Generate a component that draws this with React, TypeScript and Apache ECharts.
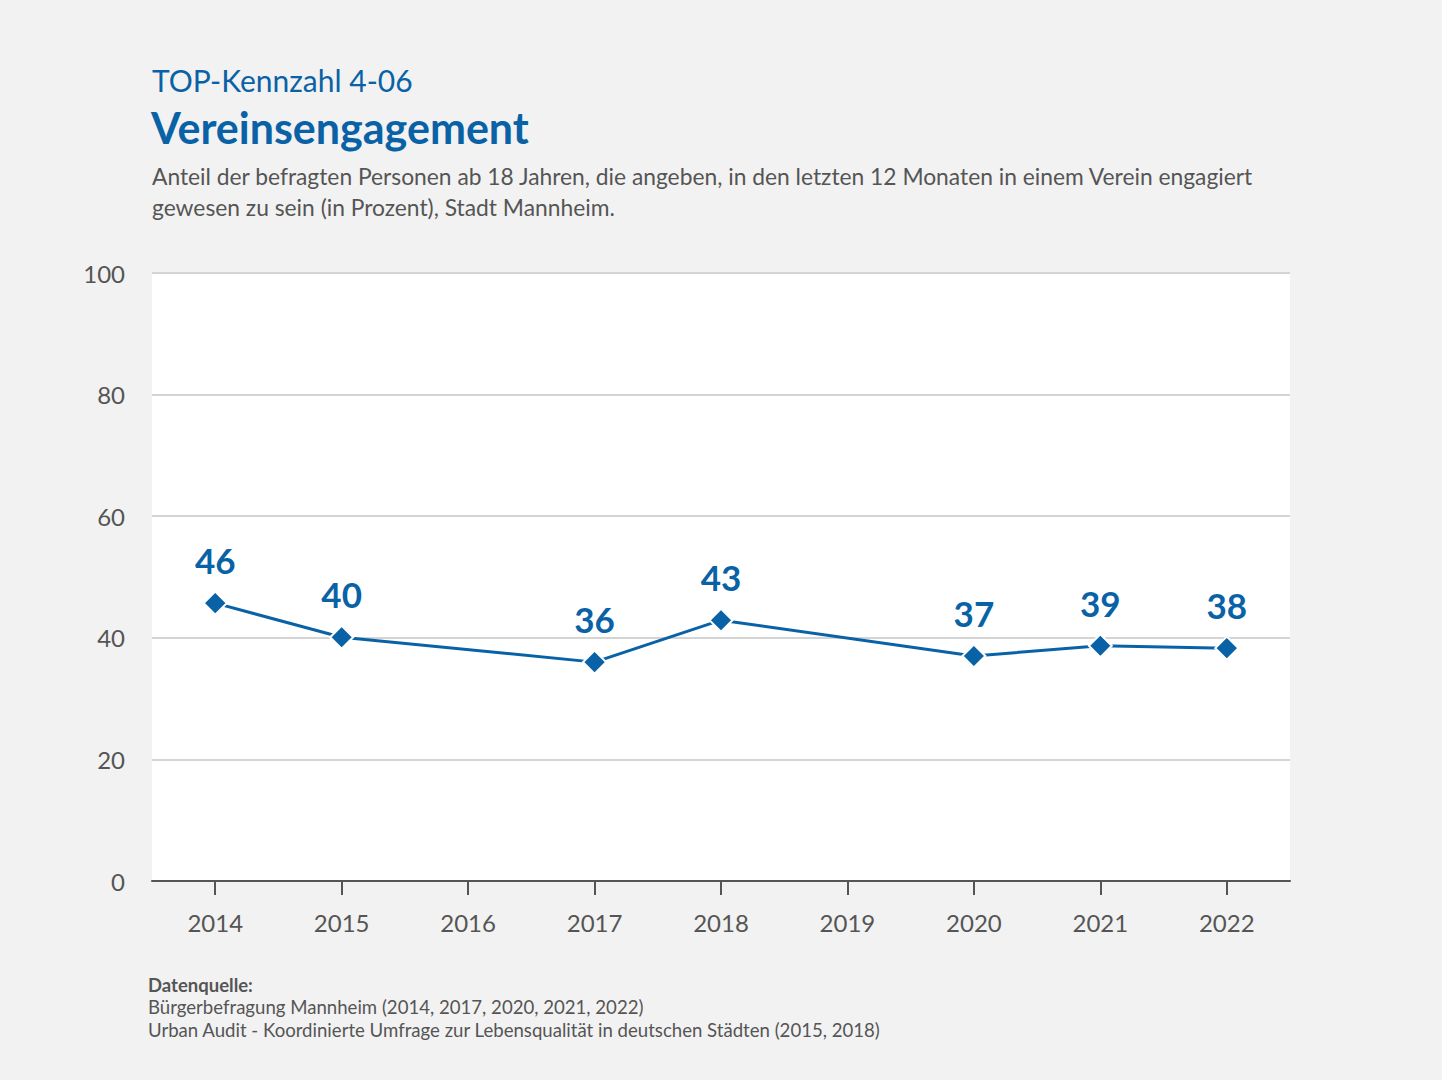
import React, { useEffect, useRef } from "react";
import * as echarts from "echarts";

const years = ["2014", "2015", "2016", "2017", "2018", "2019", "2020", "2021", "2022"];
const values: (number | null)[] = [45.7, 40.1, null, 36.0, 42.9, null, 37.0, 38.7, 38.3];
const yTicks = { min: 0, max: 100, interval: 20 };

const titleTop = "TOP-Kennzahl 4-06";
const titleMain = "Vereinsengagement";
const subtitleLines = [
  "Anteil der befragten Personen ab 18 Jahren, die angeben, in den letzten 12 Monaten in einem Verein engagiert",
  "gewesen zu sein (in Prozent), Stadt Mannheim.",
];
const sourceHead = "Datenquelle:";
const sourceLines = [
  "Bürgerbefragung Mannheim (2014, 2017, 2020, 2021, 2022)",
  "Urban Audit - Koordinierte Umfrage zur Lebensqualität in deutschen Städten (2015, 2018)",
];

const BLUE = "#0a62a6";
const GREY = "#555555";
const FONT = "Lato, 'Open Sans', sans-serif";

export default function App() {
  const ref = useRef<HTMLDivElement>(null);
  useEffect(() => {
    document.body.style.margin = "0";
    document.body.style.background = "#f2f2f2";
    if (!ref.current) return;
    const chart = echarts.init(ref.current, undefined, { renderer: "svg" });
    const seriesData = values.map((v, i) => [years[i], v]).filter((d) => d[1] !== null);
    const footer = [
      { type: "text", left: 148, top: 975, style: { text: sourceHead, fontFamily: FONT, fontSize: 18.5, lineHeight: 20, fontWeight: "bold", fill: GREY } },
      ...sourceLines.map((t, i) => ({
        type: "text",
        left: 148,
        top: 997 + i * 22.5,
        style: { text: t, fontFamily: FONT, fontSize: 18.6, lineHeight: 20, fill: GREY },
      })),
    ];
    chart.setOption({
      animation: false,
      backgroundColor: "#f2f2f2",
      textStyle: { fontFamily: FONT },
      grid: {
        left: 152,
        right: 152,
        top: 273,
        bottom: 199,
        show: true,
        backgroundColor: "#ffffff",
        borderWidth: 0,
      },
      graphic: [
        { type: "text", left: 152, top: 65, style: { text: titleTop, fontFamily: FONT, fontSize: 30, fill: BLUE } },
        { type: "text", left: 151, top: 106, style: { text: titleMain, fontFamily: FONT, fontSize: 43, fontWeight: "bold", fill: BLUE } },
        { type: "text", left: 152, top: 160, style: { text: subtitleLines.join("\n"), fontFamily: FONT, fontSize: 22.8, lineHeight: 31, fill: GREY } },
        ...footer,
      ],
      xAxis: {
        type: "category",
        data: years,
        boundaryGap: true,
        axisLine: { show: true, lineStyle: { color: GREY, width: 2 } },
        axisTick: { show: true, alignWithLabel: true, length: 14, lineStyle: { color: GREY, width: 2 } },
        axisLabel: { color: GREY, fontSize: 24, margin: 29, fontFamily: FONT },
        splitLine: { show: false },
      },
      yAxis: {
        type: "value",
        min: yTicks.min,
        max: yTicks.max,
        interval: yTicks.interval,
        axisLine: { show: false },
        axisTick: { show: false },
        axisLabel: { color: GREY, fontSize: 24, margin: 27, fontFamily: FONT },
        splitLine: { show: true, lineStyle: { color: "#d4d4d4", width: 2 } },
      },
      series: [
        {
          type: "line",
          data: seriesData,
          connectNulls: true,
          symbol: "diamond",
          symbolSize: 23,
          lineStyle: { color: BLUE, width: 3 },
          itemStyle: { color: BLUE, borderColor: "#ffffff", borderWidth: 2 },
          label: {
            show: true,
            position: "top",
            distance: 13,
            color: BLUE,
            fontSize: 35,
            fontWeight: "bold",
            fontFamily: FONT,
            formatter: (p: any) => String(Math.round(p.value[1])),
          },
        },
      ],
    });
    return () => chart.dispose();
  }, []);
  return <div ref={ref} style={{ width: 1442, height: 1080 }} />;
}
